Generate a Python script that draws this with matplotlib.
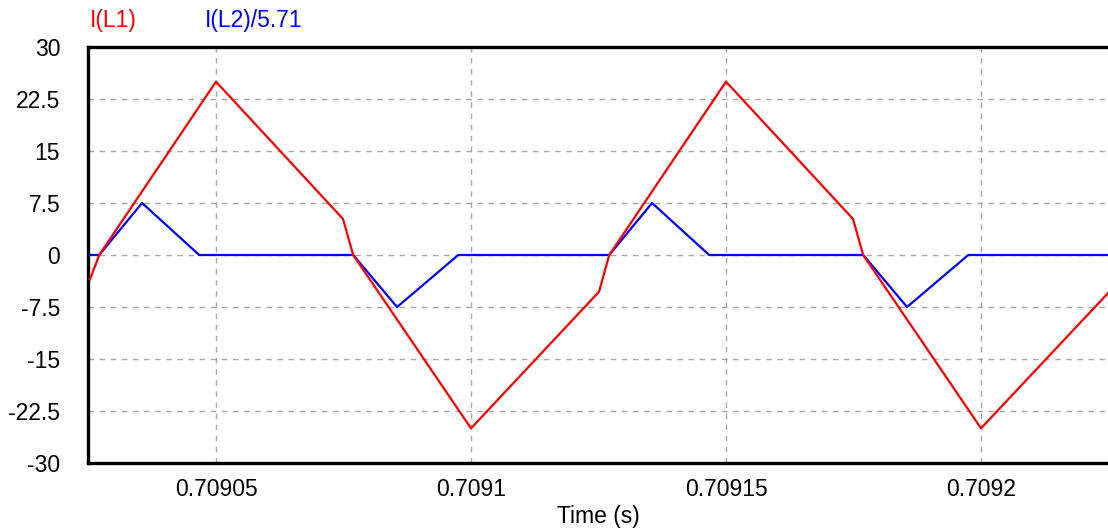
import matplotlib
matplotlib.use("Agg")
import matplotlib.pyplot as plt

plt.rcParams["font.family"] = ["Liberation Sans", "DejaVu Sans"]

# Inductor currents over two switching periods (time in seconds)
t_l1 = [0.7090253, 0.7090271, 0.70905, 0.7090749, 0.7090769, 0.7091,
        0.7091251, 0.7091271, 0.70915, 0.7091749, 0.7091769, 0.7092, 0.7092249]
i_l1 = [-3.5, 0.0, 25.0, 5.2, 0.0, -25.0, -5.3, 0.0, 25.0, 5.2, 0.0, -25.0, -5.5]

t_l2 = [0.7090253, 0.7090271, 0.7090355, 0.7090467, 0.7090769, 0.7090855, 0.7090975,
        0.7091271, 0.7091355, 0.7091467, 0.7091769, 0.7091855, 0.7091975, 0.7092249]
i_l2 = [0.0, 0.0, 7.5, 0.0, 0.0, -7.5, 0.0, 0.0, 7.5, 0.0, 0.0, -7.5, 0.0, 0.0]

x_ticks = [0.70905, 0.7091, 0.70915, 0.7092]
x_tick_labels = ["0.70905", "0.7091", "0.70915", "0.7092"]
y_ticks = [30, 22.5, 15, 7.5, 0, -7.5, -15, -22.5, -30]
y_tick_labels = ["30", "22.5", "15", "7.5", "0", "-7.5", "-15", "-22.5", "-30"]

FS = 16.5

fig = plt.figure(figsize=(11.08, 5.29), dpi=100)
ax = fig.add_axes([88 / 1108, 1 - 463 / 529, 1 - 88 / 1108, (463 - 47) / 529])

ax.plot(t_l2, i_l2, color="#0000ff", lw=1.6, zorder=3)
ax.plot(t_l1, i_l1, color="#ff0000", lw=1.6, zorder=4)

ax.set_xlim(0.7090249, 0.7092249)
ax.set_ylim(-30, 30)

ax.set_xticks(x_ticks)
ax.set_xticklabels(x_tick_labels)
ax.set_yticks(y_ticks)
ax.set_yticklabels(y_tick_labels)
ax.tick_params(axis="both", length=0, labelsize=FS)
ax.tick_params(axis="y", pad=20)
ax.tick_params(axis="x", pad=11)

ax.grid(True, color="#a8a8a8", lw=1.0, linestyle=(0, (4, 4)))
ax.set_axisbelow(True)

for side in ("left", "top", "bottom"):
    ax.spines[side].set_color("black")
    ax.spines[side].set_linewidth(2.4)
ax.spines["right"].set_visible(False)

ax.set_xlabel("Time (s)", fontsize=FS, labelpad=3)

fig.text(90 / 1108, 1 - 21 / 529, "I(L1)", color="#ff0000", fontsize=FS,
         ha="left", va="center")
fig.text(205 / 1108, 1 - 21 / 529, "I(L2)/5.71", color="#0000ff", fontsize=FS,
         ha="left", va="center")

fig.savefig("out.png", dpi=100)
